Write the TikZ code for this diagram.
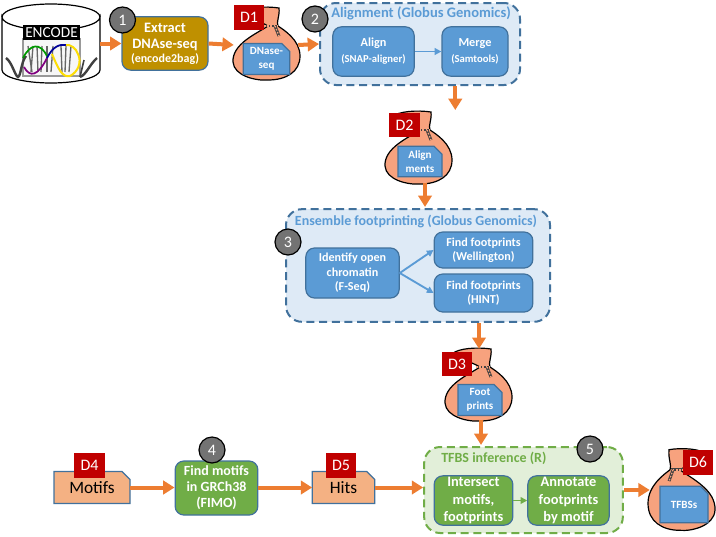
\documentclass[tikz,border=0pt]{standalone}
\usepackage{fontspec}
\setmainfont{Carlito}
\usetikzlibrary{arrows.meta,positioning,shapes.misc}

\definecolor{flowor}{HTML}{ED7D31}
\definecolor{stepblue}{HTML}{5B9BD5}
\definecolor{edgeblue}{HTML}{41719C}
\definecolor{paleblue}{HTML}{DEEAF6}
\definecolor{stepgreen}{HTML}{70AD47}
\definecolor{palegreen}{HTML}{E2EFD9}
\definecolor{stepgold}{HTML}{BF9000}
\definecolor{tagred}{HTML}{C00000}
\definecolor{sackfill}{HTML}{F7A27E}
\definecolor{filefill}{HTML}{F4B183}

\tikzset{
  pics/sack/.style={code={
    \draw[fill=sackfill, line width=0.9pt] (2,-18)
      .. controls (-10,-10) and (-34,0) .. (-33,18)
      .. controls (-32,32) and (-10,37) .. (2,36)
      .. controls (20,36) and (34,28) .. (34,12)
      .. controls (34,-4) and (18,-14) .. (12,-18)
      .. controls (10,-22) and (14,-28) .. (13,-36)
      .. controls (0,-38) and (-20,-37) .. (-26,-31)
      .. controls (-20,-26) and (-8,-24) .. cycle;
    % rope round the neck, with its loose end
    \draw[line width=2.2pt, black!75] (-2,-18) -- (11,-18);
    \draw[line width=1pt, sackfill, dash pattern=on 1.2pt off 1.2pt] (-2,-18) -- (11,-18);
    \draw[line width=2.2pt, black!75] (9,-18) -- (13,-8);
    \draw[line width=1pt, sackfill, dash pattern=on 1.2pt off 1.2pt] (9,-18) -- (13,-8);
  }}
}

\begin{document}
\begin{tikzpicture}[
  x=0.75pt, y=-0.75pt,
  every node/.style={font=\bfseries, text=white, align=center, inner sep=0pt},
  flow/.style={-{Triangle[width=10pt,length=8.5pt]}, draw=flowor, line width=3pt},
  thin flow/.style={-{Triangle[width=5pt,length=5pt]}, line width=1.4pt},
  stepbox/.style={draw=edgeblue, line width=0.9pt, rounded corners=6.5pt, fill=stepblue},
  greenbox/.style={stepbox, fill=stepgreen, font=\bfseries\fontsize{10.8}{12.8}\selectfont},
  footbox/.style={stepbox, font=\bfseries\fontsize{9.1}{10.8}\selectfont},
  groupbox/.style={draw=edgeblue, dash pattern=on 6pt off 3.5pt, line width=1.5pt,
                   rounded corners=12pt, fill=paleblue},
  grouptitle/.style={text=stepblue, font=\bfseries\fontsize{10.5}{13}\selectfont},
  badge/.style={circle, draw=black, line width=0.9pt, fill=black!55, minimum size=19.5pt,
                font=\fontsize{12}{14}\selectfont},
  tag/.style={fill=tagred, minimum width=23pt, minimum height=18.5pt,
              font=\fontsize{12}{14}\selectfont},
  filebox/.style={chamfered rectangle, chamfered rectangle corners=north east,
                  chamfered rectangle xsep=3pt, chamfered rectangle ysep=3pt,
                  draw=edgeblue, line width=0.9pt, outer sep=0pt},
  bagfile/.style={filebox, fill=stepblue, font=\bfseries\fontsize{8.3}{10.5}\selectfont},
  flatfile/.style={filebox, fill=filefill, text=black, minimum height=24pt,
                   font=\fontsize{13}{15}\selectfont},
  bagspot/.style={minimum width=48pt, minimum height=52pt}
]
  \useasboundingbox (0,0) rectangle (716,536);

  % ENCODE database
  \node[minimum width=73.5pt, minimum height=60pt] (encode) at (51,43) {};
  \draw[line width=0.9pt, fill=white] (2,17) -- (2,70) arc[start angle=180, end angle=0, x radius=49, y radius=13]
    -- (100,17) arc[start angle=0, end angle=180, x radius=49, y radius=13] -- cycle;
  \draw[line width=0.9pt] (100,17) arc[start angle=0, end angle=-180, x radius=49, y radius=13];
  \draw[black!40, line width=0.8pt, fill=black!3] (23,39) rectangle (80,76);
  \foreach \xa/\xb in {28/32,33/31,37/38,42/41,47/47,53/51,61/62,66/65,71/69}
    \draw[black!60, line width=1pt] (\xa,46) -- (\xb,72);
  \draw[black!75, line width=1.8pt] (6,58) .. controls (12,62) and (15,76) .. (18,77)
    .. controls (21,76) and (21,62) .. (26,56);
  \draw[black!75, line width=1.8pt] (80,77) .. controls (86,75) and (90,64) .. (97,58);
  \draw[black!75, line width=1.2pt] (80,77) -- (84,60);
  \draw[green!60!black, line width=1.3pt] (23,58) .. controls (30,44) and (40,42) .. (47,56);
  \draw[violet, line width=1.3pt] (24,67) .. controls (30,78) and (38,76) .. (47,58);
  \draw[blue!60!black, line width=1.3pt] (47,58) .. controls (53,46) and (60,44) .. (66,45);
  \draw[yellow!80!orange, line width=1.5pt] (52,54) .. controls (58,68) and (62,78) .. (70,76)
    .. controls (78,72) and (82,62) .. (78,54) .. controls (76,48) and (70,44) .. (66,45);
  \node[fill=black, minimum width=42.5pt, minimum height=11pt, text=white,
        font=\fontsize{11.5}{12}\selectfont] (encodelogo) at (51.5,32.5) {ENCODE};

  % containers first, so the steps and badges sit on top
  \node[groupbox, minimum width=150pt, minimum height=61.5pt] (aligngroup) at (420,44) {};
  \node[groupbox, minimum width=198pt, minimum height=84.5pt] (footgroup) at (418,265.5) {};
  \node[groupbox, draw=stepgreen, fill=palegreen, minimum width=149pt, minimum height=64.5pt]
    (tfbsgroup) at (523.5,490) {};
  \node[grouptitle, anchor=west, font=\bfseries\fontsize{10.9}{13}\selectfont] (aligntitle) at (331,13)
    {Alignment (Globus Genomics)};
  \node[grouptitle] (foottitle) at (416,221) {Ensemble footprinting (Globus Genomics)};
  \node[grouptitle, text=stepgreen, anchor=west] (tfbstitle) at (441,458) {TFBS inference (R)};

  % workflow steps
  \node[stepbox, fill=stepgold, minimum width=64.5pt, minimum height=40pt] (extract) at (165,43.5)
    {\fontsize{10.8}{13.5}\selectfont Extract\\\fontsize{10.8}{13.5}\selectfont DNAse-seq\\[-1.5pt]
     \fontsize{9}{10.5}\selectfont (encode2bag)};
  \node[stepbox, minimum width=61pt, minimum height=37pt] (align) at (373.5,51.5)
    {\fontsize{9.2}{10}\selectfont Align\\\fontsize{8}{10}\selectfont (SNAP-aligner)};
  \node[stepbox, minimum width=49.5pt, minimum height=37pt] (merge) at (475,51.5)
    {\fontsize{9.2}{10}\selectfont Merge\\\fontsize{8}{10}\selectfont (Samtools)};
  \node[footbox, minimum width=70pt, minimum height=37.5pt] (openchrom) at (352.5,273)
    {Identify open\\chromatin\\(F-Seq)};
  \node[footbox, minimum width=74pt, minimum height=27pt] (wellington) at (483.5,250)
    {Find footprints\\(Wellington)};
  \node[footbox, minimum width=74pt, minimum height=28.5pt] (hint) at (483.5,293)
    {Find footprints\\(HINT)};
  \node[greenbox, font=\bfseries\fontsize{10.5}{12}\selectfont, minimum width=62pt, minimum height=40.5pt]
    (fimo) at (216.5,488) {Find motifs\\in GRCh38\\(FIMO)};
  \node[greenbox, minimum width=59pt, minimum height=37pt] (intersect) at (473.5,500.5)
    {Intersect\\motifs,\\footprints};
  \node[greenbox, minimum width=61pt, minimum height=37pt] (annotate) at (568.5,500.5)
    {Annotate\\footprints\\by motif};

  % data bags
  \pic at (266,44) {sack};
  \pic at (418,148) {sack};
  \pic at (478,385) {sack};
  \pic[xscale=-1, yscale=1.12] at (682,490) {sack};
  \node[bagspot] (bagone) at (266,45) {};
  \node[bagspot] (bagtwo) at (418,148) {};
  \node[bagspot] (bagthree) at (478,385) {};
  \node[bagspot] (bagsix) at (682,490) {};
  \node[bagfile, minimum width=35pt, minimum height=22.5pt] (dnase) at (266.5,59) {DNase-\\seq};
  \node[bagfile, minimum width=33pt, minimum height=23pt] (alignments) at (420,161.5) {Align\\ments};
  \node[bagfile, minimum width=33pt, minimum height=23pt] (footprints) at (480,400) {Foot\\prints};
  \node[bagfile, minimum width=36pt, minimum height=27.5pt] (tfbss) at (684,504.5) {TFBSs};

  % flat input and result files
  \node[flatfile, minimum width=57pt] (motifs) at (92,487.5) {Motifs};
  \node[flatfile, minimum width=47pt] (hits) at (343.5,487.5) {Hits};

  % connectors
  \draw[flow] (encode.east |- extract.west) -- (extract.west);
  \draw[flow] (extract.east) -- (bagone.west);
  \draw[flow] (bagone.east) -- (aligngroup.west);
  \draw[flow] (aligngroup.south -| bagtwo.north east) ++(5,0) -- ++(0,24);
  \draw[flow] (bagtwo.south -| footgroup.north) ++(7,0) -- ++(0,24);
  \draw[flow] (footgroup.south -| bagthree.north) ++(1,0) -- ++(0,26);
  \draw[flow] (bagthree.south) ++(3,0) -- ++(0,25);
  \draw[flow] (tfbsgroup.east |- bagsix.west) -- (bagsix.west);
  \draw[flow] (motifs.east) -- (fimo.west |- motifs.east);
  \draw[flow] (fimo.east |- hits.east) -- (hits.west);
  \draw[flow] (hits.east) -- (tfbsgroup.west |- hits.east);
  \draw[thin flow, draw=stepblue] (align) -- (merge);
  \draw[thin flow, draw=stepblue] (openchrom.east) -- (wellington.west);
  \draw[thin flow, draw=stepblue] (openchrom.east) -- (hint.west);
  \draw[thin flow, draw=stepgreen] (intersect) -- (annotate);

  % numbered badges
  \node[badge] (one) at (122.5,20) {1};
  \node[badge] (two) at (315,19) {2};
  \node[badge] (three) at (288,242) {3};
  \node[badge] (four) at (212,450) {4};
  \node[badge] (five) at (590,449) {5};

  % dataset tags
  \node[tag] (dataone) at (249,17.5) {D1};
  \node[tag] (datatwo) at (404.5,125) {D2};
  \node[tag] (datathree) at (457,364) {D3};
  \node[tag] (datafour) at (89.5,465.5) {D4};
  \node[tag] (datafive) at (341,465.5) {D5};
  \node[tag] (datasix) at (698,462.5) {D6};
\end{tikzpicture}
\end{document}
